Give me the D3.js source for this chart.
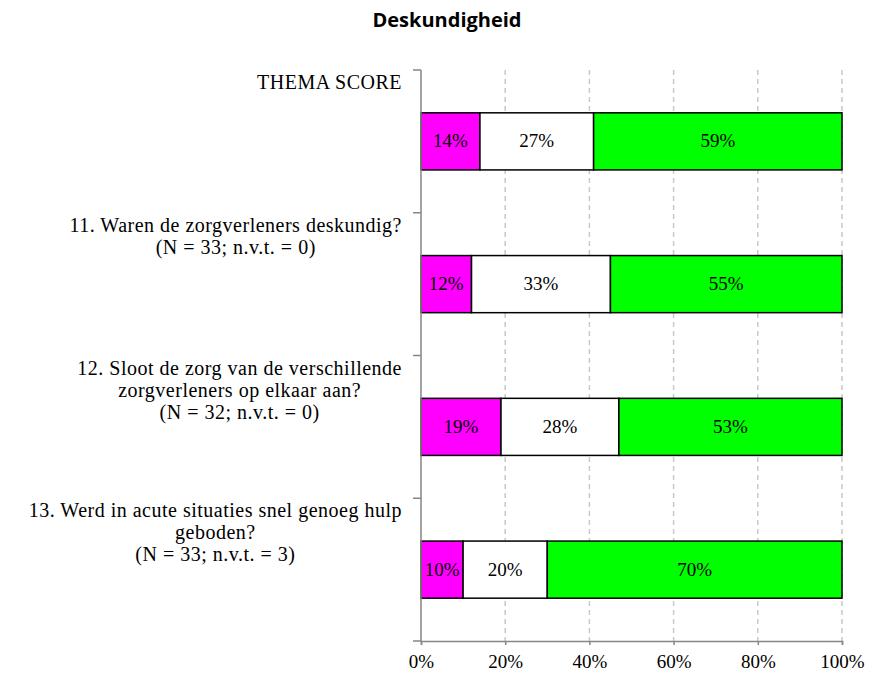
<!DOCTYPE html>
<html>
<head>
<meta charset="utf-8">
<script src="https://cdn.jsdelivr.net/npm/d3@7"></script>
<style>
  body { margin: 0; background: #fff; }
  svg { display: block; }
</style>
</head>
<body>
<div id="chart"></div>
<script>
// chart data
var categories = ["THEMA SCORE", "Q11", "Q12", "Q13"];
var labelLines = [
    ["THEMA SCORE"],
    ["11. Waren de zorgverleners deskundig?", "(N = 33; n.v.t. = 0)"],
    ["12. Sloot de zorg van de verschillende", "zorgverleners op elkaar aan?", "(N = 32; n.v.t. = 0)"],
    ["13. Werd in acute situaties snel genoeg hulp", "geboden?", "(N = 33; n.v.t. = 3)"]
];
var negative = [14, 12, 19, 10];
var neutral = [27, 33, 28, 20];
var positive = [59, 55, 53, 70];
var seriesNames = ["negative", "neutral", "positive"];
var seriesColors = ["#ff00ff", "#ffffff", "#00ff00"];
var xTicks = [0, 0.2, 0.4, 0.6, 0.8, 1.0];

var svgWidth = 876;
var svgHeight = 679;
var serif = "'Liberation Serif', serif";

var svg = d3.select("#chart")
    .append("svg")
    .attr("width", svgWidth)
    .attr("height", svgHeight);

// title
svg.append("text")
    .attr("x", 447)
    .attr("y", 27)
    .attr("text-anchor", "middle")
    .style("font-family", "'Open Sans', sans-serif")
    .style("font-weight", "bold")
    .style("font-size", "20px")
    .text("Deskundigheid");

// scales
var xScale = d3.scaleLinear()
    .domain([0, 1])
    .range([421, 842]);

var yScale = d3.scaleBand()
    .domain(categories)
    .range([70, 641])
    .padding(0);

// build stacked table
var rows = categories.map(function (c, i) {
    return { cat: c, negative: negative[i], neutral: neutral[i], positive: positive[i] };
});
var stacked = d3.stack().keys(seriesNames)(rows);

// gridlines
svg.append("g")
    .selectAll("line")
    .data(xTicks.filter(function (t) { return t > 0; }))
    .enter()
    .append("line")
    .attr("x1", d => xScale(d))
    .attr("x2", d => xScale(d))
    .attr("y1", 70)
    .attr("y2", 641)
    .attr("stroke", "#c8c8c8")
    .attr("stroke-width", 1.5)
    .attr("stroke-dasharray", "5,4");

// bars
var barH = yScale.bandwidth() * 0.4;
stacked.forEach(function (layer, si) {
    var g = svg.append("g");
    g.selectAll("rect")
        .data(layer)
        .enter()
        .append("rect")
        .attr("x", d => xScale(d[0] / 100))
        .attr("width", d => xScale(d[1] / 100) - xScale(d[0] / 100))
        .attr("y", d => yScale(d.data.cat) + (yScale.bandwidth() - barH) / 2)
        .attr("height", barH)
        .attr("fill", seriesColors[si])
        .attr("stroke", "#000")
        .attr("stroke-width", 1.5);

    g.selectAll("text")
        .data(layer)
        .enter()
        .append("text")
        .attr("x", d => (xScale(d[0] / 100) + xScale(d[1] / 100)) / 2)
        .attr("y", d => yScale(d.data.cat) + yScale.bandwidth() / 2 + 6)
        .attr("text-anchor", "middle")
        .style("font-family", serif)
        .style("font-size", "19px")
        .text(d => d3.format(".0%")((d[1] - d[0]) / 100));
});

// y axis line and ticks
var axisColor = "#868686";
svg.append("line")
    .attr("x1", 421).attr("x2", 421)
    .attr("y1", 70).attr("y2", 641)
    .attr("stroke", axisColor)
    .attr("stroke-width", 1.5);

var yBounds = categories.map(c => yScale(c)).concat([yScale.range()[1]]);
svg.append("g")
    .selectAll("line")
    .data(yBounds)
    .enter()
    .append("line")
    .attr("x1", 413).attr("x2", 421)
    .attr("y1", d => d).attr("y2", d => d)
    .attr("stroke", axisColor)
    .attr("stroke-width", 1.5);

// x axis
var xAxis = d3.axisBottom(xScale)
    .tickValues(xTicks)
    .tickFormat(d3.format(".0%"))
    .tickSize(4)
    .tickPadding(10);

var xAxisG = svg.append("g")
    .attr("transform", "translate(0, 641)")
    .call(xAxis);
xAxisG.select(".domain").attr("stroke", axisColor).attr("stroke-width", 1.5);
xAxisG.selectAll(".tick line").attr("stroke", axisColor).attr("stroke-width", 1.5);
xAxisG.selectAll(".tick text")
    .style("font-family", serif)
    .style("font-size", "19px")
    .attr("fill", "#000");

// category labels, centered block, right edge at 402
var labelRight = 402;
var lineGap = 22;
labelLines.forEach(function (lines, i) {
    var g = svg.append("g");
    var texts = g.selectAll("text")
        .data(lines)
        .enter()
        .append("text")
        .attr("y", (d, j) => yScale(categories[i]) + 19 + j * lineGap)
        .attr("text-anchor", "middle")
        .style("font-family", serif)
        .style("font-size", "20px")
        .style("letter-spacing", "0.5px")
        .text(d => d);
    var maxW = 0;
    texts.each(function () {
        maxW = Math.max(maxW, this.getComputedTextLength());
    });
    texts.attr("x", labelRight - maxW / 2);
});
</script>
</body>
</html>
